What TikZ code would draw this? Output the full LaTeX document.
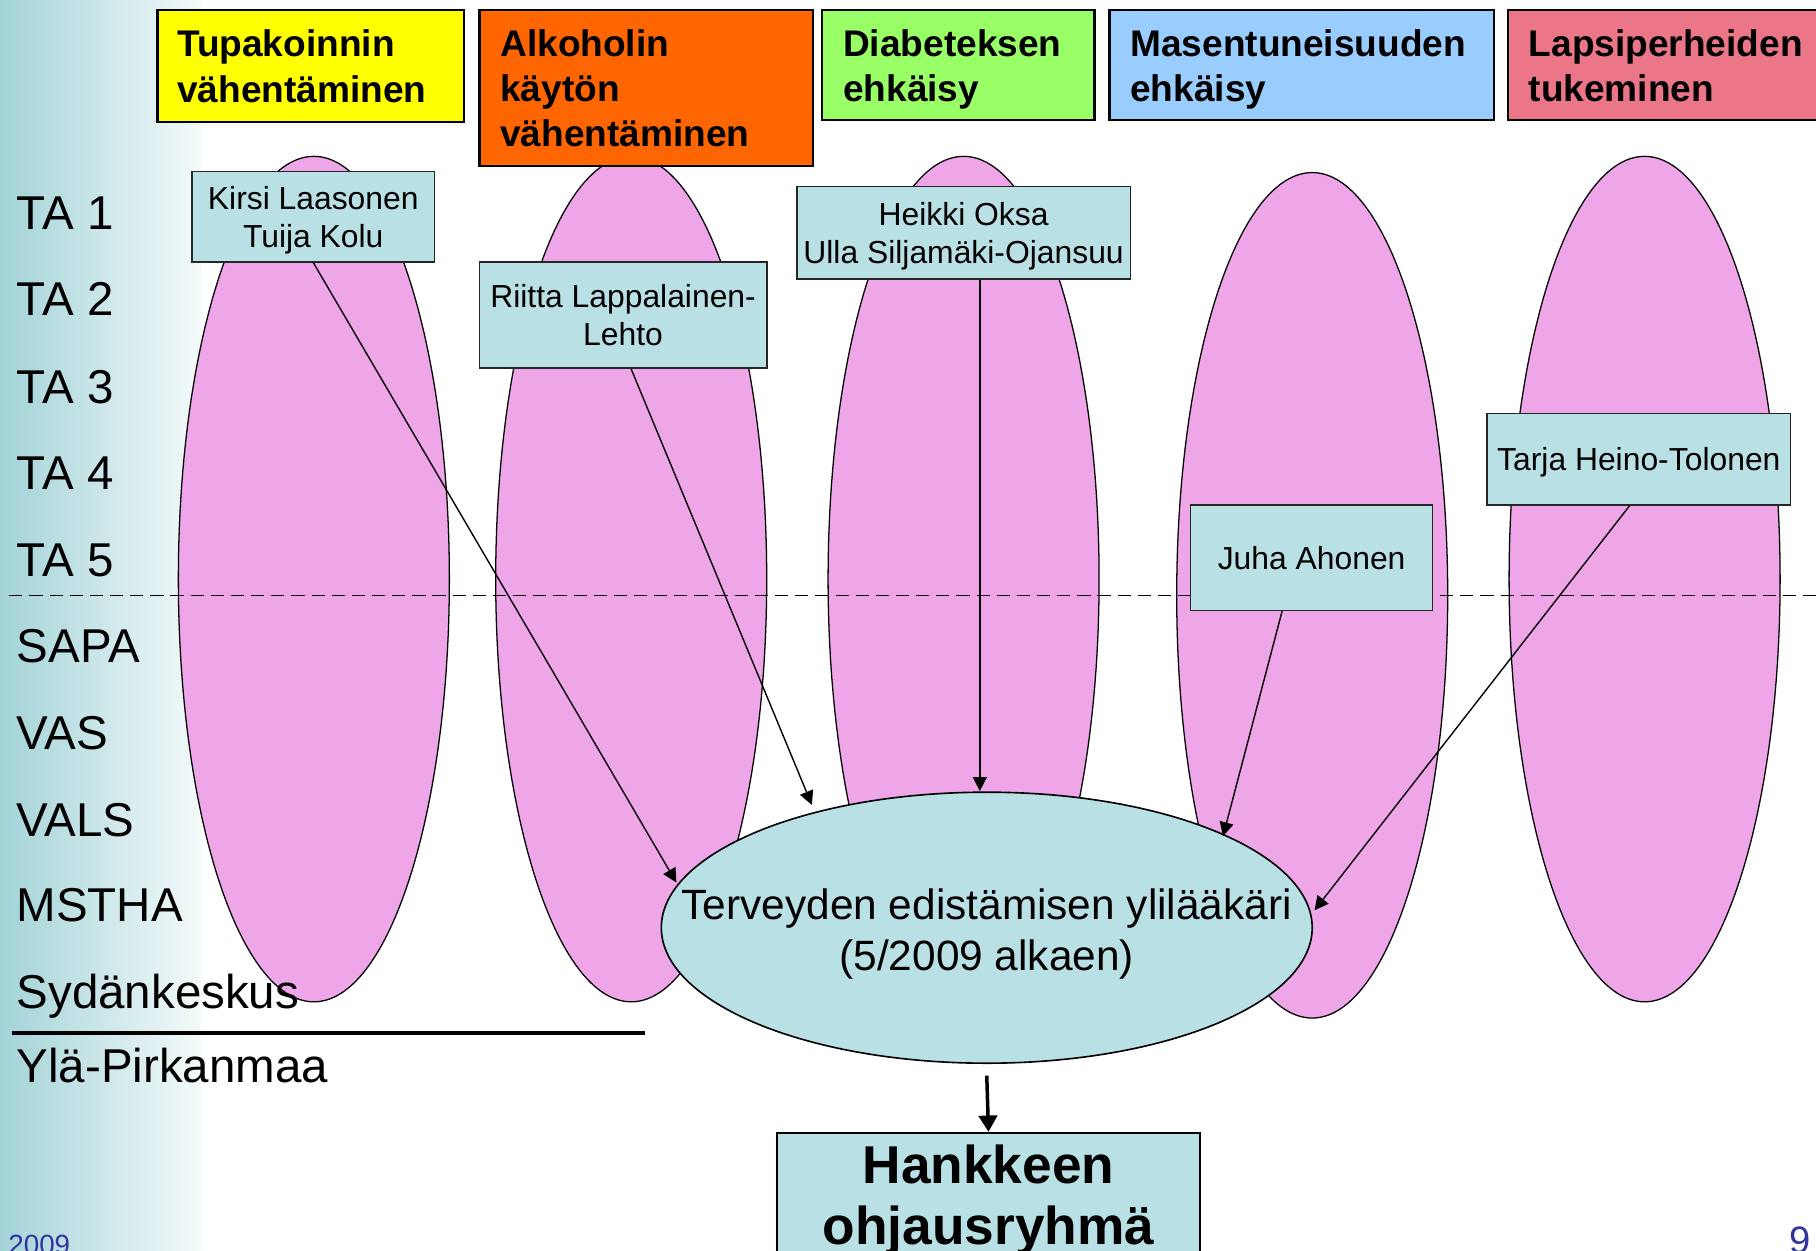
\documentclass[tikz,border=0pt]{standalone}
\usepackage{fontspec}
\setmainfont{Liberation Sans}
\usetikzlibrary{shapes.geometric,arrows.meta}
\definecolor{pinkfill}{RGB}{238,166,232}
\definecolor{lightblue}{RGB}{185,224,228}
\definecolor{hyellow}{RGB}{255,255,0}
\definecolor{horange}{RGB}{255,102,0}
\definecolor{hgreen}{RGB}{153,255,102}
\definecolor{hblue}{RGB}{153,204,255}
\definecolor{hred}{RGB}{234,118,136}
\definecolor{footblue}{RGB}{51,51,160}
\definecolor{gradteal}{RGB}{163,211,216}
\definecolor{gradend}{RGB}{244,250,250}
\begin{document}
\begin{tikzpicture}[x=0.5pt,y=-0.5pt,
 pinkell/.style={ellipse,draw=black,line width=0.55pt,fill=pinkfill,minimum width=117pt,minimum height=365pt,inner sep=0pt},
 header/.style={draw=black,line width=0.9pt,inner ysep=0pt,align=left,text depth=19.5pt,font=\bfseries\fontsize{16}{19.5}\selectfont},
 namebox/.style={draw=black!85,line width=0.7pt,fill=lightblue,align=center,inner sep=0pt,text depth=0pt,font=\fontsize{13.75}{16.5}\selectfont},
 lbl/.style={anchor=base west,inner sep=0pt,font=\fontsize{20.5}{24}\selectfont},
 conn/.style={line width=0.6pt,-{Triangle[length=6pt,width=6pt]}},
 foot/.style={inner sep=0pt,text=footblue},
]
\useasboundingbox (0,0) rectangle (1568,1080);
\fill[white] (0,0) rectangle (1568,1080);
\shade[left color=gradteal,right color=gradend] (0,0) rectangle (173,1080);

% pink column ellipses
\node[pinkell] (e1) at (271,500) {};
\node[pinkell] (e2) at (545,500) {};
\node[pinkell] (e3) at (832,500) {};
\node[pinkell] (e4) at (1133,514) {};
\node[pinkell] (e5) at (1420,500) {};

% dashed separator
\draw[line width=0.55pt,dash pattern=on 5.7pt off 3pt] (8,514) -- (1568,514);

% header boxes
\node[header,fill=hyellow,inner xsep=8.5pt,text width=115.5pt,minimum height=48pt] (h1) at (268.5,57) {Tupakoinnin\\vähentäminen};
\node[header,fill=horange,inner xsep=9pt,text width=126pt,minimum height=67pt,text depth=39pt] (h2) at (558,76) {Alkoholin\\käytön\\vähentäminen};
\node[header,fill=hgreen,inner xsep=9pt,text width=99.5pt,minimum height=47.5pt] (h3) at (827.5,56.5) {Diabeteksen\\ehkäisy};
\node[header,fill=hblue,inner xsep=9pt,text width=148pt,minimum height=47.5pt] (h4) at (1124,56.5) {Masentuneisuuden\\ehkäisy};
\node[header,fill=hred,inner xsep=9pt,text width=122pt,minimum height=47.5pt] (h5) at (1442,56.5) {Lapsiperheiden\\tukeminen};

% name boxes
\node[namebox,minimum width=104.5pt,minimum height=39pt] (kirsi) at (270.5,187) {Kirsi Laasonen\\Tuija Kolu};
\node[namebox,minimum width=124pt,minimum height=46pt] (riitta) at (538,272) {Riitta Lappalainen-\\Lehto};
\node[namebox,minimum width=144pt,minimum height=40pt] (heikki) at (832,201) {Heikki Oksa\\Ulla Siljamäki-Ojansuu};
\node[namebox,minimum width=104.5pt,minimum height=45.5pt] (juha) at (1132.5,481.5) {Juha Ahonen};
\node[namebox,minimum width=131pt,minimum height=39.5pt] (tarja) at (1415,396.5) {Tarja Heino-Tolonen};

% central ellipse
\node[ellipse,draw=black,line width=0.7pt,fill=lightblue,minimum width=281pt,minimum height=117pt,inner sep=0pt] (big) at (852,801) {};
\node[align=center,inner sep=0pt,text depth=0pt,font=\fontsize{18.3}{22}\selectfont] (bigtext) at (852,803) {Terveyden edistämisen ylilääkäri\\(5/2009 alkaen)};

% connectors
\coordinate (t1) at (584,762);
\coordinate (t2) at (701,695);
\coordinate (t3) at (846,683);
\coordinate (t4) at (1056,722);
\coordinate (t5) at (1135,786);
\draw[conn] (kirsi.south) -- (t1);
\draw[conn] ([xshift=3.5pt]riitta.south) -- (t2);
\draw[conn] ([xshift=7pt]heikki.south) -- (t3);
\draw[conn] ([xshift=-12.75pt]juha.south) -- (t4);
\draw[conn] ([xshift=-4pt]tarja.south) -- (t5);

% steering group box
\node[draw=black,line width=0.8pt,fill=lightblue,minimum width=182.5pt,minimum height=53.5pt,inner sep=0pt,align=center,text depth=0pt,font=\bfseries\fontsize{23}{26.5}\selectfont] (hank) at (853.5,1031.5) {Hankkeen\\ohjausryhmä};
\draw[line width=1.5pt,-{Triangle[length=7pt,width=8pt]}] ([yshift=-5pt]big.south) -- (hank.north);

% left labels
\node[lbl] (ta1) at (14,198) {TA 1};
\node[lbl] (ta2) at (14,272) {TA 2};
\node[lbl] (ta3) at (14,348) {TA 3};
\node[lbl] (ta4) at (14,423) {TA 4};
\node[lbl] (ta5) at (14,498) {TA 5};
\node[lbl] (sapa) at (14,572) {SAPA};
\node[lbl] (vas) at (14,647) {VAS};
\node[lbl] (vals) at (14,722) {VALS};
\node[lbl] (mstha) at (14,796) {MSTHA};
\node[lbl] (syd) at (14,871) {Sydänkeskus};
\draw[line width=2pt] (10,892) -- (557,892);
\node[lbl] (yla) at (14,935) {Ylä-Pirkanmaa};

% footer
\node[foot,anchor=base east,font=\fontsize{12}{14}\selectfont] (date) at (61,1083) {.2009};
\node[foot,anchor=base west,font=\fontsize{16.5}{18}\selectfont] (pnum) at (1545,1082) {9};
\end{tikzpicture}
\end{document}
